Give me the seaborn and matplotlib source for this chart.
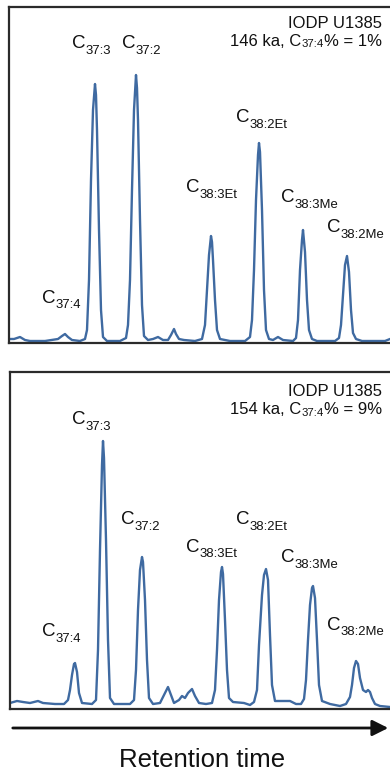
import matplotlib
matplotlib.use("Agg")
import matplotlib.pyplot as plt
import seaborn as sns
import pandas as pd

# -------------------------
# DATA
# retention time in arbitrary units, signal in arbitrary units
# -------------------------

top_rt = [9, 14, 20, 25, 30, 45, 58, 62, 65, 68, 72, 80, 85, 87, 89, 91, 93, 95, 96, 97,
          99, 101, 103, 107, 120, 126, 128, 130, 132, 134, 136, 137, 138, 140, 142, 144,
          148, 153, 158, 163, 168, 171, 174, 176, 179, 184, 195, 202, 205, 207, 209, 211,
          212, 213, 215, 217, 220, 230, 245, 250, 252, 254, 256, 258, 259, 260, 262, 264,
          266, 269, 273, 278, 283, 293, 296, 298, 300, 302, 303, 305, 307, 309, 312, 317,
          335, 339, 341, 343, 345, 347, 349, 351, 353, 356, 362, 385, 390, 400]
top_signal = [4, 4, 6, 3, 2, 2, 4, 7, 9, 6, 3, 2, 4, 13, 63, 163, 233, 259, 248, 213,
              113, 33, 6, 2, 2, 5, 18, 63, 153, 233, 268, 255, 223, 123, 38, 7,
              3, 4, 6, 3, 3, 8, 14, 9, 4, 3, 2, 4, 18, 53, 88, 107,
              101, 83, 43, 13, 4, 2, 2, 6, 23, 73, 143, 188, 200, 191, 133, 53,
              13, 4, 3, 6, 3, 2, 5, 23, 73, 103, 113, 91, 43, 13, 4, 2,
              2, 5, 18, 48, 78, 87, 71, 33, 10, 4, 2, 2, 4, 4]

bot_rt = [10, 17, 23, 30, 38, 43, 55, 64, 68, 70, 72, 74, 75, 77, 79, 82, 92, 96, 98, 100,
          102, 103, 104, 106, 108, 110, 114, 130, 134, 136, 138, 140, 142, 143, 145, 147,
          149, 153, 160, 164, 168, 171, 174, 179, 182, 185, 188, 192, 195, 199, 206, 212,
          215, 217, 219, 221, 222, 223, 225, 227, 229, 233, 244, 250, 254, 257, 259, 262,
          264, 266, 268, 270, 272, 275, 280, 290, 296, 301, 304, 306, 308, 310, 312, 313,
          315, 317, 319, 322, 330, 340, 346, 350, 352, 354, 356, 358, 360, 363, 366, 368,
          370, 372, 375, 380, 390, 400]
bot_signal = [6, 8, 7, 6, 8, 6, 5, 5, 9, 19, 34, 45, 46, 37, 16, 6, 5, 9, 59, 159,
              244, 268, 251, 169, 69, 11, 5, 5, 9, 39, 99, 139, 152, 147, 109, 49,
              11, 5, 6, 14, 22, 14, 6, 9, 13, 11, 16, 20, 13, 6, 5, 6,
              19, 59, 109, 137, 142, 135, 89, 39, 11, 7, 6, 4, 7, 19, 64, 114,
              134, 140, 129, 74, 24, 8, 8, 8, 5, 5, 10, 29, 69, 104, 121, 123,
              111, 69, 24, 8, 5, 3, 5, 12, 24, 41, 48, 45, 31, 19, 17, 19,
              17, 11, 5, 3, 2, 2]

# peak labels: text, left position, height of the "C" centre
peak_names = ["37:4", "37:3", "37:2", "38:3Et", "38:2Et", "38:3Me", "38:2Me"]
top_label_x = [42, 72, 122, 186, 236, 281, 327]
top_label_y = [45, 299, 299, 155, 225, 145, 115]
bot_label_x = [42, 72, 121, 186, 236, 281, 327]
bot_label_y = [77, 289, 189, 162, 189, 151, 84]

site = "IODP U1385"
ages = ["146 ka", "154 ka"]
c374_pct = [1, 9]

# -------------------------
# FIGURE
# -------------------------
sns.set_style("white")
plt.rcParams["font.family"] = ["Liberation Sans", "DejaVu Sans"]

line_color = "#3f6aa1"
ink = "#111111"
W, H = 390, 775
fig = plt.figure(figsize=(W / 100, H / 100), dpi=100)


def c_label(ax, x, y, name, size):
    # "C" plus a smaller, lowered subscript drawn right after it
    t = ax.text(x, y, "C", fontsize=size, ha="left", va="center", color=ink)
    ax.annotate(name, xy=(1, 0), xycoords=t, xytext=(0.3, -3.0),
                textcoords="offset points", fontsize=size * 0.7,
                ha="left", va="bottom", color=ink)


# axes boxes in pixels: (left, top, bottom); right edge runs off the figure
boxes = [(9, 7, 343), (10, 372, 709)]
panels = [(top_rt, top_signal, top_label_x, top_label_y),
          (bot_rt, bot_signal, bot_label_x, bot_label_y)]

for i, ((left, top, bottom), (rt, sig, lx, ly)) in enumerate(zip(boxes, panels)):
    ax = fig.add_axes([left / W, 1 - bottom / H, (400 - left) / W, (bottom - top) / H])
    df = pd.DataFrame({"rt": rt, "signal": sig})
    sns.lineplot(data=df, x="rt", y="signal", ax=ax, color=line_color, lw=1.7,
                 estimator=None, sort=False)
    ax.set_xlim(left, 400)
    ax.set_ylim(0, bottom - top)
    ax.set_xticks([])
    ax.set_yticks([])
    ax.set_xlabel("")
    ax.set_ylabel("")
    for s in ax.spines.values():
        s.set_color("#2b2b2b")
        s.set_linewidth(1.6)

    for name, x, y in zip(peak_names, lx, ly):
        c_label(ax, x, y, name, 13.5)

    y1 = (bottom - top) - 16 - (0 if i == 0 else 4)
    y2 = y1 - 18
    ax.text(382, y1, site, fontsize=12, ha="right", va="center", color=ink)
    # second header line: "146 ka, C" + small "37:4" + "% = 1%"
    tail = ax.text(382, y2, "% = " + str(c374_pct[i]) + "%", fontsize=12,
                   ha="right", va="center", color=ink)
    small = ax.annotate("37:4", xy=(0, 0), xycoords=tail, xytext=(-0.3, -0.6),
                        textcoords="offset points", fontsize=8.2, ha="right",
                        va="bottom", color=ink)
    ax.annotate(ages[i] + ", C", xy=(0, 0), xycoords=small, xytext=(-0.3, 0.6),
                textcoords="offset points", fontsize=12, ha="right", va="bottom",
                color=ink)

# retention time arrow
fig.patches.append(matplotlib.patches.FancyArrowPatch(
    (10 / W, 1 - 728 / H), (391 / W, 1 - 728 / H), transform=fig.transFigure,
    arrowstyle="-|>", mutation_scale=24, lw=2, color=ink))
fig.text(202 / W, 1 - 760 / H, "Retention time", fontsize=18.5, ha="center",
         va="center", color=ink)

plt.savefig("out.png", dpi=100)
plt.close()
